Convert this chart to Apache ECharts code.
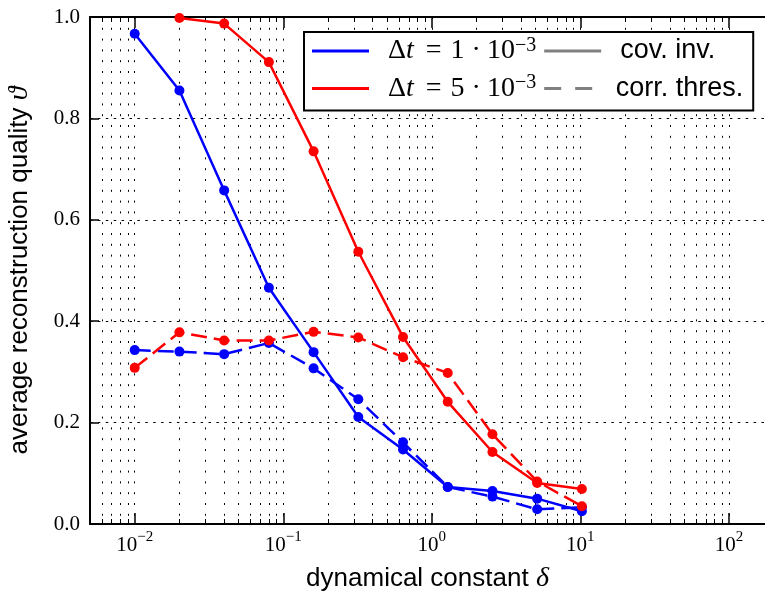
<!DOCTYPE html>
<html><head><meta charset="utf-8">
<script src="https://cdn.jsdelivr.net/npm/echarts@6/dist/echarts.min.js"></script>
<style>html,body{margin:0;padding:0;background:#fff}#c{width:765px;height:592px}</style>
</head><body><div id="c"></div>
<script>
// ---- data ----
const deltaValues    = [0.01, 0.02, 0.04, 0.08, 0.16, 0.32, 0.64, 1.28, 2.56, 5.12, 10.24];
const dt1CovInv      = [0.967, 0.855, 0.658, 0.466, 0.339, 0.211, 0.147, 0.073, 0.065, 0.050, 0.025];
const dt1CorrThres   = [0.343, 0.340, 0.335, 0.357, 0.307, 0.246, 0.161, 0.073, 0.054, 0.029, 0.033];
const dt5CovInv      = [null, 0.998, 0.987, 0.911, 0.735, 0.537, 0.369, 0.241, 0.142, 0.081, 0.069];
const dt5CorrThres   = [0.308, 0.378, 0.362, 0.362, 0.379, 0.368, 0.329, 0.298, 0.177, 0.084, 0.035];

const xMajorTicks = [0.01, 0.1, 1, 10, 100];
const xMinorTicks = [0.006, 0.007, 0.008, 0.009,
  0.02, 0.03, 0.04, 0.05, 0.06, 0.07, 0.08, 0.09,
  0.2, 0.3, 0.4, 0.5, 0.6, 0.7, 0.8, 0.9,
  2, 3, 4, 5, 6, 7, 8, 9,
  20, 30, 40, 50, 60, 70, 80, 90];
const yTickLabels = ['0.0', '0.2', '0.4', '0.6', '0.8', '1.0'];

const legendLabels = {
  dt1: '{d|Δ}{t|t}{op|=}{m|1}{dot|·}{m|10}{sup|−3}',
  dt5: '{d|Δ}{t|t}{op|=}{m|5}{dot|·}{m|10}{sup|−3}',
  cov: '{s|cov. inv.}',
  thres: '{s|corr. thres.}'
};

const BLUE = '#0000ff', RED = '#ff0000', GREY = '#808080';
const pairs = (ys) => deltaValues.map((x, i) => [x, ys[i]]).filter(p => p[1] !== null);

const solidIcon = 'path://M0,0H57V3H0Z';
const dashIcon = 'path://M0,0H17V3H0ZM31,0H48V3H31Z';

const chart = echarts.init(document.getElementById('c'), null, {renderer: 'canvas'});

const serif = 'Liberation Serif';
const sans = 'Liberation Sans';
const dotted = [2, 8.8];

const baseX = {
  type: 'log', logBase: 10, min: 0.005, max: 175, gridIndex: 0
};

const option = {
  animation: false,
  backgroundColor: '#fff',
  grid: {left: 90, top: 17, right: 0, bottom: 68, containLabel: false, outerBoundsMode: 'none'},
  xAxis: [
    Object.assign({}, baseX, {
      position: 'bottom',
      name: '{s|dynamical constant }{m|δ}',
      nameLocation: 'middle',
      nameGap: 41,
      nameTextStyle: {rich: {
        s: {fontFamily: sans, fontSize: 26, color: '#000'},
        m: {fontFamily: serif, fontStyle: 'italic', fontSize: 28, color: '#000'}
      }},
      axisLine: {show: true, lineStyle: {color: '#000', width: 2}},
      axisTick: {show: true, inside: true, length: 11, customValues: xMajorTicks, lineStyle: {color: '#000', width: 1.5}},
      axisLabel: {
        show: true, customValues: xMajorTicks, margin: 6,
        formatter: (v) => {
          const e = Math.round(Math.log10(v));
          return '{b|10}{s|' + (e < 0 ? '−' : '') + Math.abs(e) + '}';
        },
        rich: {
          b: {fontFamily: serif, fontSize: 21, lineHeight: 26, color: '#000', verticalAlign: 'bottom'},
          s: {fontFamily: serif, fontSize: 15, lineHeight: 15, color: '#000', verticalAlign: 'top'}
        }
      },
      splitLine: {show: true, lineStyle: {color: '#000', width: 1, type: dotted}}
    }),
    Object.assign({}, baseX, {
      position: 'bottom',
      axisLine: {show: false},
      axisTick: {show: true, inside: true, length: 5, customValues: xMinorTicks, lineStyle: {color: '#000', width: 1}},
      axisLabel: {show: false},
      splitLine: {show: true, lineStyle: {color: '#000', width: 1, type: dotted}}
    }),
    Object.assign({}, baseX, {
      position: 'top',
      axisLine: {show: true, lineStyle: {color: '#000', width: 2}},
      axisTick: {show: true, inside: true, length: 11, customValues: xMajorTicks, lineStyle: {color: '#000', width: 1.5}},
      axisLabel: {show: false},
      splitLine: {show: false}
    }),
    Object.assign({}, baseX, {
      position: 'top',
      axisLine: {show: false},
      axisTick: {show: true, inside: true, length: 5, customValues: xMinorTicks, lineStyle: {color: '#000', width: 1}},
      axisLabel: {show: false},
      splitLine: {show: false}
    })
  ],
  yAxis: [{
    type: 'value', min: 0, max: 1, interval: 0.2, position: 'left',
    name: '{s|average reconstruction quality }{m|ϑ}',
    nameLocation: 'middle',
    nameGap: 56,
    nameTextStyle: {rich: {
      s: {fontFamily: sans, fontSize: 26, color: '#000'},
      m: {fontFamily: serif, fontStyle: 'italic', fontSize: 28, color: '#000'}
    }},
    axisLine: {show: true, lineStyle: {color: '#000', width: 2}},
    axisTick: {show: true, inside: true, length: 9, lineStyle: {color: '#000', width: 1.5}},
    axisLabel: {
      margin: 10, fontFamily: serif, fontSize: 21, color: '#000',
      formatter: (v) => yTickLabels[Math.round(v / 0.2)]
    },
    splitLine: {show: true, lineStyle: {color: '#000', width: 1, type: [2.5, 5.4]}}
  }],
  legend: {
    left: 304, top: 32,
    orient: 'horizontal',
    width: 470,
    padding: [3.5, 10, 8, 8],
    itemWidth: 57, itemHeight: 3, itemGap: 8,
    borderColor: '#000', borderWidth: 2, backgroundColor: '#fff',
    selectedMode: false,
    itemStyle: {borderWidth: 0},
    data: [
      {name: 'dt1', icon: solidIcon},
      {name: 'cov', icon: solidIcon},
      {name: 'dt5', icon: solidIcon},
      {name: 'thres', icon: dashIcon}
    ],
    formatter: (n) => legendLabels[n],
    textStyle: {
      color: '#000',
      rich: {
        d: {fontFamily: serif, fontSize: 28, lineHeight: 31, padding: [0, 0, 0, 14], color: '#000'},
        t: {fontFamily: serif, fontStyle: 'italic', fontSize: 28, lineHeight: 31, color: '#000'},
        op: {fontFamily: serif, fontSize: 28, lineHeight: 31, padding: [0, 9, 0, 12], color: '#000'},
        m: {fontFamily: serif, fontSize: 28, lineHeight: 31, color: '#000'},
        dot: {fontFamily: serif, fontSize: 28, lineHeight: 31, padding: [0, 6, 0, 7], color: '#000'},
        sup: {fontFamily: serif, fontSize: 20, lineHeight: 20, verticalAlign: 'top', color: '#000'},
        s: {fontFamily: sans, fontSize: 27, lineHeight: 31, padding: [0, 0, 0, 14], color: '#000'}
      }
    }
  },
  series: [
    {name: 'dt1', type: 'line', xAxisIndex: 0, data: pairs(dt1CovInv), color: BLUE,
      symbol: 'circle', symbolSize: 10, lineStyle: {width: 2.5, color: BLUE}, itemStyle: {color: BLUE}, z: 3},
    {name: 'dt1 thres', type: 'line', xAxisIndex: 0, data: pairs(dt1CorrThres), color: BLUE,
      symbol: 'circle', symbolSize: 10, lineStyle: {width: 2.5, color: BLUE, type: [16, 7]}, itemStyle: {color: BLUE}, z: 3},
    {name: 'dt5', type: 'line', xAxisIndex: 0, data: pairs(dt5CovInv), color: RED,
      symbol: 'circle', symbolSize: 10, lineStyle: {width: 2.5, color: RED}, itemStyle: {color: RED}, z: 4},
    {name: 'dt5 thres', type: 'line', xAxisIndex: 0, data: pairs(dt5CorrThres), color: RED,
      symbol: 'circle', symbolSize: 10, lineStyle: {width: 2.5, color: RED, type: [16, 7]}, itemStyle: {color: RED}, z: 4},
    {name: 'cov', type: 'line', xAxisIndex: 0, data: [], color: GREY, itemStyle: {color: GREY}},
    {name: 'thres', type: 'line', xAxisIndex: 0, data: [], color: GREY, itemStyle: {color: GREY}}
  ]
};
chart.setOption(option);
</script>
</body></html>
